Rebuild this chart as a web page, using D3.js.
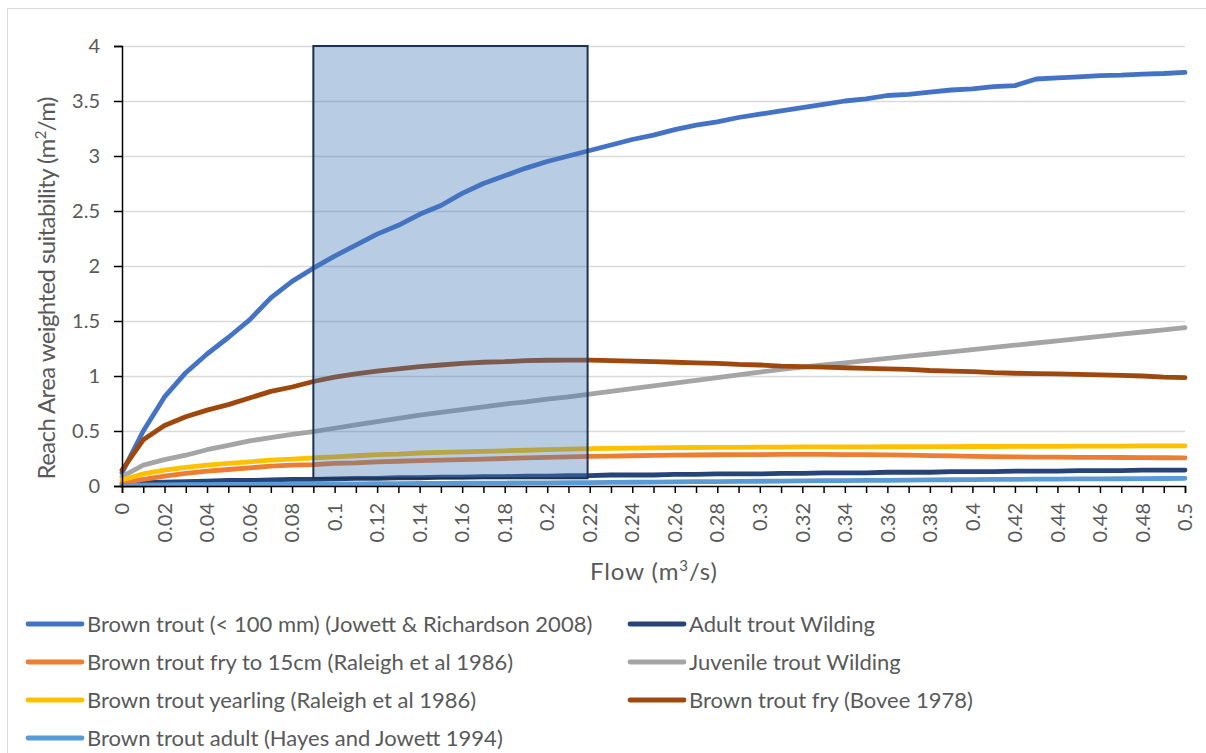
<!DOCTYPE html>
<html><head><meta charset="utf-8">
<script src="https://cdn.jsdelivr.net/npm/d3@7"></script>
<style>
html,body{margin:0;padding:0;background:#fff;}
svg{display:block;font-family:Lato,"Open Sans",sans-serif;}
</style></head>
<body><svg id="c" width="1206" height="753"></svg>
<script>
const flows = [0,0.01,0.02,0.03,0.04,0.05,0.06,0.07,0.08,0.09,0.1,0.11,0.12,0.13,0.14,0.15,0.16,0.17,0.18,0.19,0.2,0.21,0.22,0.23,0.24,0.25,0.26,0.27,0.28,0.29,0.3,0.31,0.32,0.33,0.34,0.35,0.36,0.37,0.38,0.39,0.4,0.41,0.42,0.43,0.44,0.45,0.46,0.47,0.48,0.49,0.5];
const xTickLabels = ["0","0.02","0.04","0.06","0.08","0.1","0.12","0.14","0.16","0.18","0.2","0.22","0.24","0.26","0.28","0.3","0.32","0.34","0.36","0.38","0.4","0.42","0.44","0.46","0.48","0.5"];
const yTicks = [0,0.5,1,1.5,2,2.5,3,3.5,4];

const seriesNames = [
  "Brown trout (< 100 mm) (Jowett & Richardson 2008)",
  "Adult trout Wilding",
  "Brown trout fry to 15cm (Raleigh et al 1986)",
  "Juvenile trout Wilding",
  "Brown trout yearling (Raleigh et al 1986)",
  "Brown trout fry (Bovee 1978)",
  "Brown trout adult (Hayes and Jowett 1994)"
];
const seriesColors = ["#4472C4","#264478","#ED7D31","#A5A5A5","#FFC000","#9E480E","#5B9BD5"];

const jowettSmall = [0.12,0.50,0.81,1.03,1.20,1.35,1.51,1.71,1.86,1.98,2.09,2.19,2.29,2.37,2.47,2.55,2.66,2.75,2.82,2.89,2.95,3.00,3.05,3.10,3.15,3.19,3.24,3.28,3.31,3.35,3.38,3.41,3.44,3.47,3.50,3.52,3.55,3.56,3.58,3.60,3.61,3.63,3.64,3.70,3.71,3.72,3.73,3.735,3.745,3.75,3.76];
const adultWilding = [0.02,0.03,0.035,0.04,0.045,0.05,0.05,0.055,0.06,0.06,0.065,0.07,0.07,0.075,0.075,0.08,0.08,0.085,0.085,0.09,0.09,0.095,0.095,0.10,0.10,0.10,0.105,0.105,0.11,0.11,0.11,0.115,0.115,0.12,0.12,0.12,0.125,0.125,0.125,0.13,0.13,0.13,0.135,0.135,0.135,0.14,0.14,0.14,0.145,0.145,0.145];
const fryTo15 = [0.03,0.06,0.09,0.115,0.135,0.15,0.165,0.18,0.19,0.195,0.205,0.21,0.22,0.225,0.23,0.235,0.24,0.245,0.25,0.255,0.26,0.265,0.27,0.272,0.275,0.278,0.28,0.282,0.284,0.285,0.286,0.287,0.287,0.287,0.286,0.285,0.283,0.28,0.277,0.273,0.27,0.267,0.265,0.263,0.262,0.261,0.26,0.259,0.258,0.257,0.256];
const juvenileWilding = [0.085,0.19,0.24,0.28,0.33,0.37,0.41,0.44,0.47,0.495,0.525,0.555,0.585,0.615,0.645,0.67,0.695,0.72,0.745,0.765,0.79,0.81,0.835,0.86,0.885,0.91,0.935,0.96,0.985,1.01,1.035,1.06,1.08,1.10,1.12,1.14,1.16,1.18,1.20,1.22,1.24,1.26,1.28,1.30,1.32,1.34,1.36,1.38,1.40,1.42,1.44];
const yearling = [0.055,0.11,0.145,0.17,0.19,0.205,0.22,0.235,0.245,0.255,0.265,0.275,0.285,0.29,0.30,0.305,0.31,0.315,0.32,0.325,0.33,0.335,0.34,0.342,0.344,0.346,0.348,0.35,0.351,0.352,0.353,0.354,0.355,0.355,0.356,0.356,0.357,0.357,0.358,0.358,0.359,0.359,0.36,0.36,0.361,0.362,0.362,0.363,0.364,0.364,0.365];
const boveeFry = [0.145,0.42,0.55,0.63,0.69,0.74,0.80,0.86,0.90,0.95,0.99,1.02,1.045,1.065,1.085,1.10,1.115,1.125,1.13,1.14,1.143,1.145,1.145,1.14,1.135,1.13,1.125,1.12,1.115,1.105,1.10,1.09,1.085,1.08,1.075,1.07,1.065,1.06,1.05,1.045,1.04,1.03,1.025,1.022,1.02,1.015,1.01,1.005,1.0,0.99,0.985];
const adultHayes = [0.005,0.008,0.01,0.012,0.013,0.014,0.015,0.016,0.017,0.018,0.019,0.02,0.021,0.022,0.023,0.024,0.025,0.026,0.027,0.028,0.029,0.03,0.031,0.033,0.034,0.036,0.037,0.039,0.04,0.042,0.043,0.045,0.046,0.048,0.049,0.051,0.052,0.054,0.055,0.057,0.058,0.06,0.061,0.062,0.063,0.064,0.065,0.066,0.067,0.068,0.07];

const shadedFlow = [0.09, 0.219];
const shadedSuit = [0.07, 4];

const seriesValues = [jowettSmall, adultWilding, fryTo15, juvenileWilding, yearling, boveeFry, adultHayes];

const svg = d3.select("#c");
const W = 1206, H = 753;
const x = d3.scaleLinear().domain([0, 0.5]).range([122, 1185]);
const y = d3.scaleLinear().domain([0, 4]).range([486, 46]);
const textCol = "#595959";

// outer border
svg.append("rect").attr("x",7.5).attr("y",8.5).attr("width",W).attr("height",H)
  .attr("fill","none").attr("stroke","#D9D9D9").attr("stroke-width",1);

// gridlines
svg.append("g").selectAll("line").data(yTicks.filter(d=>d>0)).join("line")
  .attr("x1",x(0)).attr("x2",x(0.5))
  .attr("y1",d=>Math.round(y(d))+0.5).attr("y2",d=>Math.round(y(d))+0.5)
  .attr("stroke","#D9D9D9").attr("stroke-width",1.3);

// lines
const line = d3.line().x((d,i)=>x(flows[i])).y(d=>y(d));
svg.append("g").selectAll("path").data(seriesValues).join("path")
  .attr("d", d=>line(d)).attr("fill","none")
  .attr("stroke",(d,i)=>seriesColors[i]).attr("stroke-width",4.8)
  .attr("stroke-linejoin","round").attr("stroke-linecap","round");

// shaded rectangle
svg.append("rect")
  .attr("x", x(shadedFlow[0])).attr("y", y(shadedSuit[1]))
  .attr("width", x(shadedFlow[1]) - x(shadedFlow[0]))
  .attr("height", y(shadedSuit[0]) - y(shadedSuit[1]))
  .attr("fill","#4479B8").attr("fill-opacity",0.38)
  .attr("stroke","#1F3350").attr("stroke-width",2);

// y axis
const yAxis = d3.axisLeft(y).tickValues(yTicks).tickSize(8).tickPadding(14).tickFormat(d3.format("~g"));
const gy = svg.append("g").attr("transform",`translate(${x(0)},0)`).call(yAxis);
gy.select(".domain").attr("stroke","#000").attr("stroke-width",1.5);
gy.selectAll(".tick line").attr("stroke","#000").attr("stroke-width",1.5);
gy.selectAll(".tick text").attr("fill",textCol).style("font-size","20px").style("font-family","Lato");

// x axis
const xAxis = d3.axisBottom(x).tickValues(flows).tickSize(7).tickFormat("");
const gx = svg.append("g").attr("transform",`translate(0,${y(0)})`).call(xAxis);
gx.select(".domain").attr("stroke","#000").attr("stroke-width",1.5);
gx.selectAll(".tick line").attr("stroke","#000").attr("stroke-width",1.5);

svg.append("g").selectAll("text").data(xTickLabels).join("text")
  .attr("transform", d=>`translate(${x(+d)},${y(0)+17}) rotate(-90)`)
  .attr("text-anchor","end").attr("dy","0.36em")
  .attr("fill",textCol).style("font-size","20px")
  .text(d=>d);

// axis titles
const ty = svg.append("text").attr("transform",`translate(55,${(y(0)+y(4))/2 + 22}) rotate(-90)`)
  .attr("text-anchor","middle").attr("fill",textCol).style("font-size","24px")
  .attr("textLength",383).attr("lengthAdjust","spacing");
ty.append("tspan").text("Reach Area weighted suitability (m");
ty.append("tspan").text("2").style("font-size","15px").attr("dy","-9");
ty.append("tspan").text("/m)").attr("dy","9");

const tx = svg.append("text").attr("transform",`translate(${(x(0)+x(0.5))/2},580)`)
  .attr("text-anchor","middle").attr("fill",textCol).style("font-size","24px")
  .attr("textLength",127).attr("lengthAdjust","spacing");
tx.append("tspan").text("Flow (m");
tx.append("tspan").text("3").style("font-size","15px").attr("dy","-9");
tx.append("tspan").text("/s)").attr("dy","9");

// legend (row-major, 2 columns)
const legX = [28, 630], legY0 = 624, legDy = 38;
const lg = svg.append("g").selectAll("g").data(seriesNames).join("g")
  .attr("transform",(d,i)=>`translate(${legX[i%2]},${legY0 + Math.floor(i/2)*legDy})`);
lg.append("line").attr("x1",0).attr("x2",54).attr("y1",0).attr("y2",0)
  .attr("stroke",(d,i)=>seriesColors[i]).attr("stroke-width",4.8).attr("stroke-linecap","round");
lg.append("text").attr("x",59).attr("dy","0.35em").attr("fill",textCol).style("font-size","22px").text(d=>d);
</script></body></html>
